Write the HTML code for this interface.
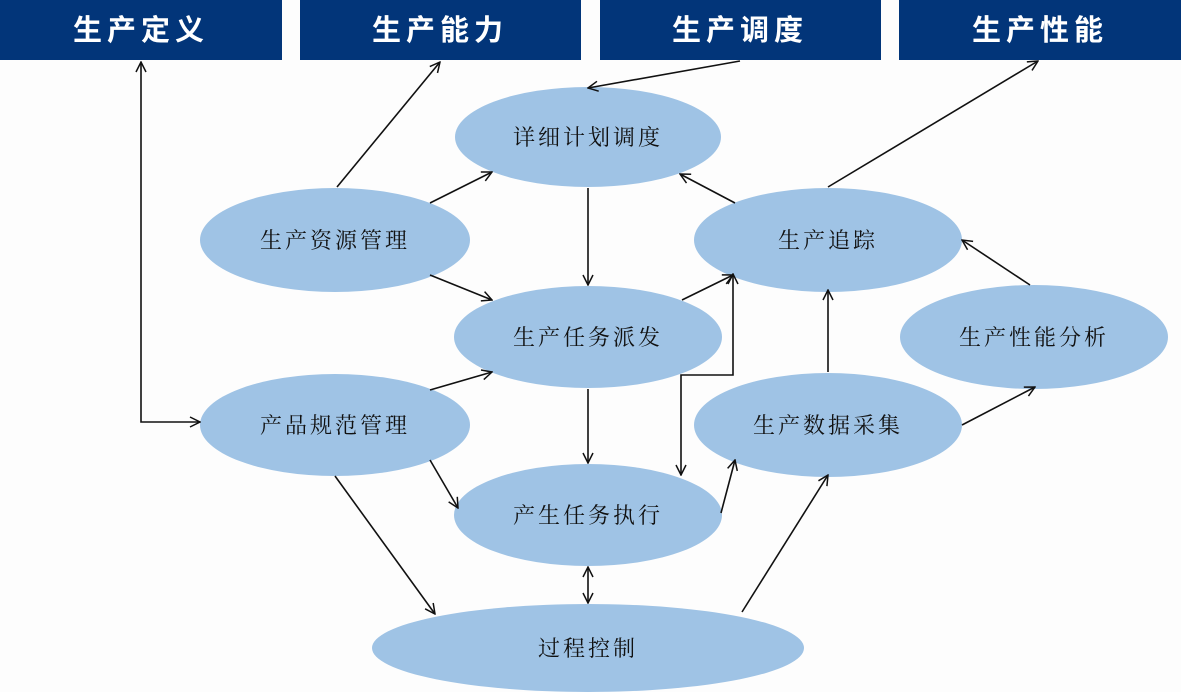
<!DOCTYPE html>
<html><head><meta charset="utf-8"><style>
html,body{margin:0;padding:0;background:#fdfdfd;}
svg{display:block}
.h{font-family:"Liberation Sans","Noto Sans CJK SC",sans-serif;font-size:29px;fill:#fff;letter-spacing:5px;font-weight:bold}
.t{font-family:"Liberation Sans","Noto Serif CJK SC","Noto Sans CJK SC",sans-serif;font-size:22px;fill:#111;letter-spacing:3px}
</style></head><body>
<svg width="1181" height="692" viewBox="0 0 1181 692" xmlns="http://www.w3.org/2000/svg">
<defs>
<marker id="a" viewBox="0 0 12 12" refX="11" refY="6" markerWidth="12" markerHeight="12" markerUnits="userSpaceOnUse" orient="auto-start-reverse">
<path d="M1,1 L11,6 L1,11" fill="none" stroke="#111" stroke-width="1.5"/>
</marker>
</defs>
<rect x="0" y="0" width="282" height="60" fill="#023579"/>
<rect x="300" y="0" width="281" height="60" fill="#023579"/>
<rect x="600" y="0" width="281" height="60" fill="#023579"/>
<rect x="899" y="0" width="282" height="60" fill="#023579"/>
<text class="h" x="141" y="40" text-anchor="middle">生产定义</text>
<text class="h" x="440" y="40" text-anchor="middle">生产能力</text>
<text class="h" x="740" y="40" text-anchor="middle">生产调度</text>
<text class="h" x="1040" y="40" text-anchor="middle">生产性能</text>
<g fill="#9fc3e5">
<ellipse cx="588" cy="137" rx="133" ry="50"/>
<ellipse cx="335" cy="240" rx="135" ry="52"/>
<ellipse cx="828" cy="240" rx="134" ry="52"/>
<ellipse cx="588" cy="337" rx="134" ry="51"/>
<ellipse cx="1034" cy="337" rx="134" ry="52"/>
<ellipse cx="335" cy="425" rx="135" ry="51"/>
<ellipse cx="828" cy="425" rx="134" ry="52"/>
<ellipse cx="588" cy="515" rx="134" ry="51"/>
<ellipse cx="588" cy="648" rx="216" ry="44"/>
</g>
<g class="t" text-anchor="middle">
<text x="588" y="145">详细计划调度</text>
<text x="335" y="248">生产资源管理</text>
<text x="828" y="248">生产追踪</text>
<text x="588" y="345">生产任务派发</text>
<text x="1034" y="345">生产性能分析</text>
<text x="335" y="433">产品规范管理</text>
<text x="828" y="433">生产数据采集</text>
<text x="588" y="523">产生任务执行</text>
<text x="588" y="656">过程控制</text>
</g>
<g stroke="#111" stroke-width="1.6" fill="none">
<polyline points="141,62 141,422 200,422" marker-start="url(#a)" marker-end="url(#a)"/>
<line x1="337" y1="187" x2="440" y2="62" marker-end="url(#a)"/>
<line x1="740" y1="61" x2="588" y2="88" marker-end="url(#a)"/>
<line x1="828" y1="187" x2="1038" y2="61" marker-end="url(#a)"/>
<line x1="430" y1="203" x2="492" y2="172" marker-end="url(#a)"/>
<line x1="430" y1="275" x2="492" y2="300" marker-end="url(#a)"/>
<line x1="588" y1="188" x2="588" y2="285" marker-end="url(#a)"/>
<line x1="735" y1="203" x2="680" y2="174" marker-end="url(#a)"/>
<line x1="682" y1="300" x2="733" y2="275" marker-end="url(#a)"/>
<line x1="588" y1="389" x2="588" y2="463" marker-end="url(#a)"/>
<line x1="430" y1="390" x2="492" y2="372" marker-end="url(#a)"/>
<line x1="430" y1="460" x2="458" y2="508" marker-end="url(#a)"/>
<line x1="335" y1="476" x2="435" y2="614" marker-end="url(#a)"/>
<polyline points="681,475 681,375 733,375 733,274" marker-start="url(#a)" marker-end="url(#a)"/>
<line x1="721" y1="513" x2="735" y2="460" marker-end="url(#a)"/>
<line x1="588" y1="567" x2="588" y2="603" marker-start="url(#a)" marker-end="url(#a)"/>
<line x1="742" y1="612" x2="828" y2="475" marker-end="url(#a)"/>
<line x1="828" y1="372" x2="828" y2="290" marker-end="url(#a)"/>
<line x1="962" y1="425" x2="1035" y2="387" marker-end="url(#a)"/>
<line x1="1030" y1="285" x2="962" y2="240" marker-end="url(#a)"/>
</g>
</svg>
</body></html>
